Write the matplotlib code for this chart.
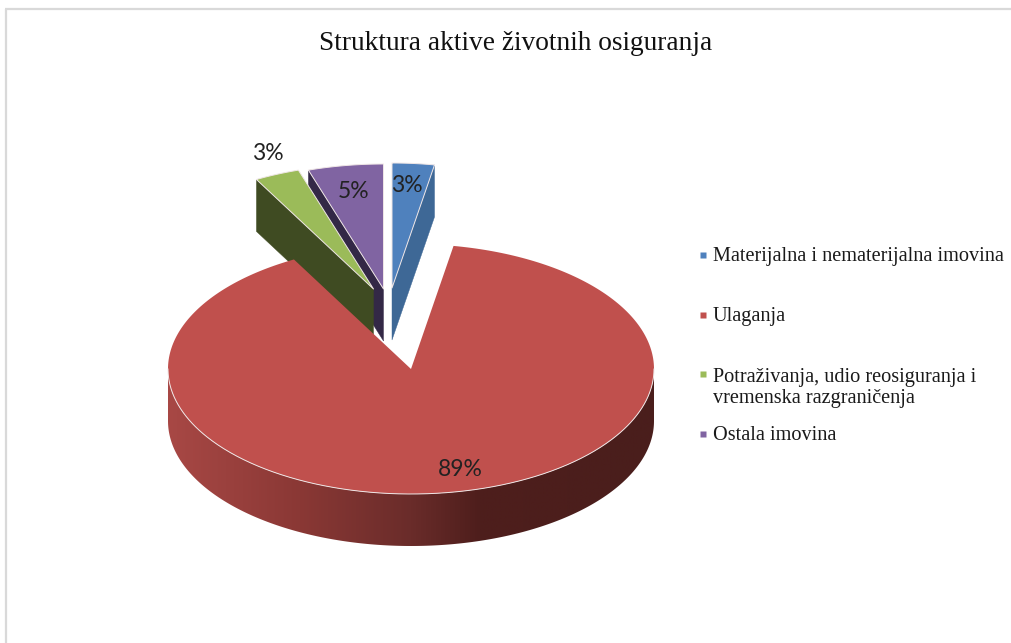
import numpy as np
import matplotlib
matplotlib.use("Agg")
import matplotlib.pyplot as plt
from matplotlib.patches import Polygon
from matplotlib.colors import to_rgb

title = "Struktura aktive životnih osiguranja"
categories = ["Materijalna i nematerijalna imovina", "Ulaganja",
              "Potraživanja, udio reosiguranja i\nvremenska razgraničenja", "Ostala imovina"]
values = [2.8, 89.2, 3, 5]
pct_labels = ["3%", "89%", "3%", "5%"]
top_colors = ["#4F81BD", "#C0504D", "#9BBB59", "#8064A2"]
side_colors = ["#3E6896", "#6A2C2A", "#3F4B22", "#332846"]

RX, RY, DEPTH = 243, 125, 52
centers = [(392, 288), (411, 369), (373.5, 289), (383.5, 289)]
legend_y = [255, 315, 374, 434]
legend_text_y = [257, 317, 388, 436]
label_xy = [(407, 186), (460, 470), (268, 154), (354, 191)]
EDGE = "#EFE6E6"

fig = plt.figure(figsize=(10.12, 6.43), dpi=100, facecolor="white")
ax = fig.add_axes([0, 0, 1, 1])
ax.axis("off")

# frame
ax.plot([6, 6], [643, 9], color="#D9D9D9", lw=1.6, solid_capstyle="butt")
ax.plot([5, 1012], [9, 9], color="#D9D9D9", lw=1.6, solid_capstyle="butt")

bounds = np.cumsum([0] + values) / sum(values) * 2 * np.pi


def rim(c, t):
    return np.column_stack([c[0] + RX * np.sin(t), c[1] - RY * np.cos(t)])


def top_face(i, edge=EDGE, lw=0.7):
    t = np.linspace(bounds[i], bounds[i + 1], 300)
    c = centers[i]
    pts = np.vstack([[c], rim(c, t)])
    ax.add_patch(Polygon(pts, closed=True, facecolor=top_colors[i], edgecolor=edge, lw=lw, joinstyle="round"))


def radial_face(i, angle):
    c = centers[i]
    p = rim(c, np.array([angle]))[0]
    pts = [c, p, (p[0], p[1] + DEPTH), (c[0], c[1] + DEPTH)]
    ax.add_patch(Polygon(pts, closed=True, facecolor=side_colors[i], edgecolor=side_colors[i], lw=0.3))


# exploded small slices, back to front
radial_face(0, bounds[1])
top_face(0)
radial_face(3, bounds[3])
top_face(3)
radial_face(2, bounds[2])
top_face(2)

# red slice: curved front wall with horizontal shading
cx, cy = centers[1]
grad_x = [168, 300, 411, 480, 654]
grad_c = np.array([to_rgb(h) for h in ["#A84845", "#8A3835", "#6A2C2A", "#4E1E1C", "#4A1E1C"]])
xs = np.linspace(cx - RX, cx + RX, 600)
img = np.stack([np.interp(xs, grad_x, grad_c[:, k]) for k in range(3)], axis=-1)[None, :, :]
t = np.linspace(np.pi / 2, 3 * np.pi / 2, 400)
r = rim(centers[1], t)
wall = np.vstack([r, (r + [0, DEPTH])[::-1]])
im = ax.imshow(img, extent=(cx - RX, cx + RX, cy + RY + DEPTH, cy - RY), aspect="auto",
               interpolation="bilinear", zorder=1.5)
clip = Polygon(wall, closed=True, transform=ax.transData)
im.set_clip_path(clip)
top_face(1, edge="none", lw=0)
ax.patches[-1].set_zorder(1.6)
ax.plot(r[:, 0], r[:, 1], color=EDGE, lw=0.7, zorder=1.7)

ax.set_xlim(0, 1012)
ax.set_ylim(643, 0)

# data labels
for (x, y), s in zip(label_xy, pct_labels):
    ax.text(x, y, s, ha="center", va="center", family="Lato", fontsize=16.5, color="#222222", zorder=3)

ax.text(516, 44, title, ha="center", va="center", family="Liberation Serif", fontsize=19.7, color="#111111")

# legend
for ly, ty, c, s in zip(legend_y, legend_text_y, top_colors, categories):
    ax.plot([703], [ly], marker="s", ms=4.6, color=c, mec="none", ls="none")
    ax.text(713, ty, s, ha="left", va="center", family="Liberation Serif", fontsize=14.6,
            color="#1A1A1A", linespacing=1.18)

fig.savefig("out.png", dpi=100, facecolor="white")
